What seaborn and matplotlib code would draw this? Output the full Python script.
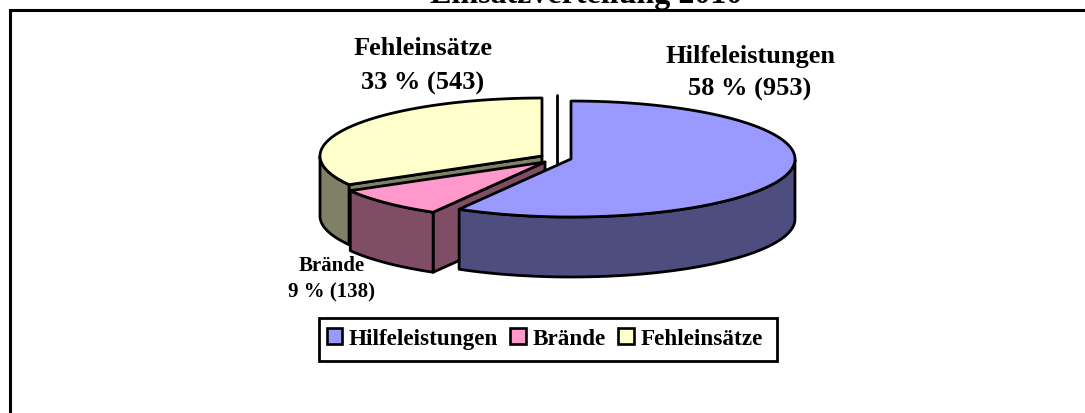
import numpy as np
import matplotlib
matplotlib.use("Agg")
import matplotlib.pyplot as plt
from matplotlib.patches import Patch, Rectangle
import seaborn as sns

categories = ["Hilfeleistungen", "Brände", "Fehleinsätze"]
values = [953, 138, 543]
percents = [58, 9, 33]
top_colors = ["#9999FF", "#FF99CC", "#FFFFCC"]
side_colors = ["#4D4D80", "#804D66", "#808066"]
title = "Einsatzverteilung 2010"

sns.set_theme(style="white")
plt.rcParams["font.family"] = ["Liberation Serif", "DejaVu Serif"]
plt.rcParams["font.weight"] = "bold"
plt.rcParams["text.color"] = "black"

fig = plt.figure(figsize=(10.85, 4.14), dpi=100)
ax = fig.add_axes([0, 0, 1, 1])
ax.set_xlim(0, 1085)
ax.set_ylim(414, 0)
ax.axis("off")

# chart frame: runs off the right and bottom of the picture
ax.plot([9.5, 9.5, 1095], [425, 10.5, 10.5], color="black", lw=2.2, clip_on=False,
        solid_joinstyle="miter")

DEPTH = 60
LW = 2.0
centers = [(571, 160), (545, 163), (542, 157)]
radii = [(224, 58), (224, 58), (222, 58)]

fractions = np.array(values) / sum(values)
edges = np.concatenate([[0], np.cumsum(fractions)]) * 2 * np.pi


def pt(c, r, a):
    return c[0] + r[0] * np.sin(a), c[1] - r[1] * np.cos(a)


def poly(xy, color, z):
    xy = np.asarray(xy)
    ax.fill(xy[:, 0], xy[:, 1], facecolor=color, edgecolor="black", lw=LW, joinstyle="round", zorder=z)


def slice3d(i, z):
    c, r = centers[i], radii[i]
    a0, a1 = edges[i], edges[i + 1]
    arc = np.linspace(a0, a1, 200)
    ex, ey = pt(c, r, arc)
    # cut faces that can be seen from the front
    if i in (1, 2):
        poly([c, (ex[0], ey[0]), (ex[0], ey[0] + DEPTH), (c[0], c[1] + DEPTH)], side_colors[i], z)
    # rim: only the part in the lower half of the ellipse
    vis = np.cos(arc) <= 0
    vx, vy = ex[vis], ey[vis]
    rim = np.vstack([np.c_[vx, vy], np.c_[vx[::-1], vy[::-1] + DEPTH]])
    poly(rim, side_colors[i], z + 0.1)
    # top
    poly(np.vstack([[c], np.c_[ex, ey]]), top_colors[i], z + 0.2)


for i, z in zip([2, 1, 0], [2, 3, 4]):
    slice3d(i, z)

# stray vertical stroke in the gap
ax.plot([556.5, 556.5], [96, 165], color="black", lw=LW, zorder=1)

ax.text(586, 3, title, ha="center", va="baseline", fontsize=23, clip_on=False)
ax.text(750, 73, f"{categories[0]}\n{percents[0]} % ({values[0]})", ha="center", va="center",
        fontsize=19, linespacing=1.5)
ax.text(423, 66, f"{categories[2]}\n{percents[2]} % ({values[2]})", ha="center", va="center",
        fontsize=19, linespacing=1.62)
ax.text(332, 279, f"{categories[1]}\n{percents[1]} % ({values[1]})", ha="center", va="center",
        fontsize=15, linespacing=1.4)

# legend box drawn separately so that its right margin can match
ax.add_patch(Rectangle((319, 319), 458, 43, facecolor="white", edgecolor="black", lw=2, zorder=5))
handles = [Patch(facecolor=c, edgecolor="black", lw=1.9, label=l) for c, l in zip(top_colors, categories)]
leg = ax.legend(handles=handles, ncol=3, loc="center left", bbox_to_anchor=(322, 339.5),
                bbox_transform=ax.transData, fontsize=16.7, frameon=False,
                handlelength=0.68, handleheight=0.68, handletextpad=0.28,
                columnspacing=0.52, borderpad=0.2, borderaxespad=0)
leg.set_zorder(6)

fig.savefig("out.png", dpi=100)
